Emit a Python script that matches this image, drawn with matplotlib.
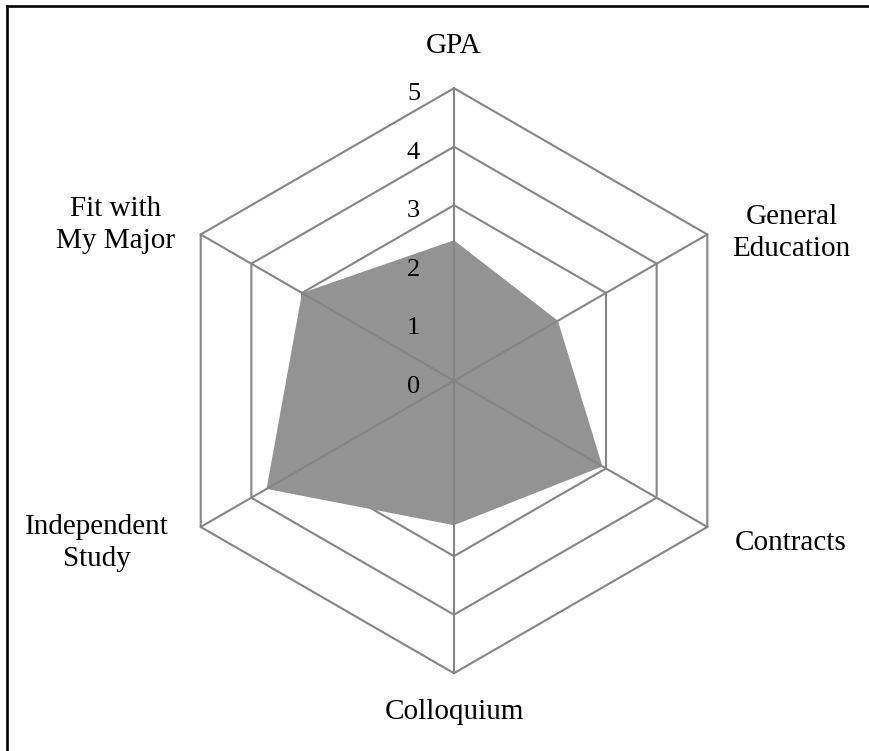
import numpy as np
import matplotlib
matplotlib.use("Agg")
import matplotlib.pyplot as plt
from matplotlib.lines import Line2D

plt.rcParams['font.family'] = ['Liberation Serif', 'DejaVu Serif']

# axes, clockwise from the top
categories = ["GPA", "General\nEducation", "Contracts", "Colloquium",
              "Independent\nStudy", "Fit with\nMy Major"]
scores = [2.4, 2.05, 2.93, 2.47, 3.7, 3.0]
levels = [0, 1, 2, 3, 4, 5]

# where the category labels sit (data units, centre of the chart = 0,0)
label_pos = [(0.0, 5.72), (5.77, 2.52), (5.76, -2.77), (0.0, -5.66),
             (-6.11, -2.77), (-5.79, 2.66)]

GRID_COLOR = '#858585'
FILL_COLOR = '#939393'

n = len(categories)
angles = np.pi / 2 - np.arange(n) * 2 * np.pi / n
cx, cy = np.cos(angles), np.sin(angles)

fig = plt.figure(figsize=(8.69, 7.51), dpi=100)
ax = fig.add_axes([0, 0, 1, 1])
ax.set_xlim(-454 / 58.5, (869 - 454) / 58.5)
ax.set_ylim(-(751 - 380.7) / 58.5, 380.7 / 58.5)
ax.set_aspect('equal')
ax.axis('off')

# rings, under the fill
for lv in levels[1:]:
    ax.plot(np.append(cx, cx[0]) * lv, np.append(cy, cy[0]) * lv,
            color=GRID_COLOR, lw=1.5, zorder=1)

vals = np.array(scores)
ax.fill(cx * vals, cy * vals, color=FILL_COLOR, lw=0, zorder=2)

# spokes on top of the fill
for i in range(n):
    ax.plot([0, cx[i] * levels[-1]], [0, cy[i] * levels[-1]],
            color=GRID_COLOR, lw=1.5, zorder=3)

for lv in levels:
    ax.text(-0.58, lv - 0.1, str(lv), ha='right', va='center',
            fontsize=19, zorder=4)

for lab, (x, y) in zip(categories, label_pos):
    ax.text(x, y, lab, ha='center', va='center', fontsize=21,
            linespacing=1.28, zorder=4)

# border along top and left edge
fig.add_artist(Line2D([0.0085, 1.0], [0.992, 0.992], color='black', lw=1.9,
                      transform=fig.transFigure))
fig.add_artist(Line2D([0.0085, 0.0085], [0.0, 0.992], color='black', lw=1.9,
                      transform=fig.transFigure))

fig.savefig('out.png', dpi=100, facecolor='white')
